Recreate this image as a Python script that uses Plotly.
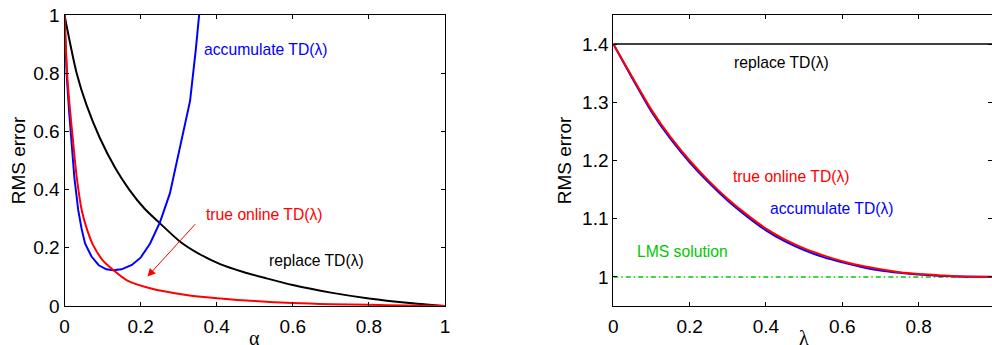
import plotly.graph_objects as go

# ---------------- Left panel data (RMS error vs alpha) ----------------
acc_alpha = [0, 0.006, 0.012, 0.019, 0.026, 0.036, 0.045, 0.054, 0.071, 0.09,
             0.11, 0.128, 0.15, 0.177, 0.2, 0.225, 0.251, 0.277, 0.3, 0.33, 0.345, 0.356]
acc_err = [1.0, 0.79, 0.67, 0.56, 0.44, 0.33, 0.265, 0.215, 0.17, 0.14,
           0.126, 0.123, 0.126, 0.141, 0.166, 0.215, 0.288, 0.387, 0.53, 0.705, 0.88, 1.03]

tol_alpha = [0, 0.0074, 0.0145, 0.023, 0.032, 0.046, 0.06, 0.075, 0.1, 0.128,
             0.163, 0.225, 0.32, 0.41, 0.5, 0.6, 0.7, 0.8, 0.9, 1.0]
tol_err = [1.0, 0.788, 0.674, 0.559, 0.444, 0.325, 0.26, 0.21, 0.158, 0.124,
           0.089, 0.061, 0.038, 0.026, 0.017, 0.01, 0.006, 0.004, 0.002, 0.0]

rep_alpha = [0, 0.032, 0.058, 0.092, 0.133, 0.17, 0.21, 0.251, 0.304, 0.35,
             0.409, 0.47, 0.531, 0.6, 0.7, 0.8, 0.9, 1.0]
rep_err = [1.0, 0.80, 0.69, 0.58, 0.475, 0.40, 0.335, 0.284, 0.221, 0.182,
           0.144, 0.117, 0.095, 0.072, 0.046, 0.026, 0.011, 0.0]

# ---------------- Right panel data (RMS error vs lambda) ----------------
lam = [0, 0.05, 0.1, 0.15, 0.2, 0.25, 0.3, 0.35, 0.4, 0.45, 0.5,
       0.55, 0.6, 0.65, 0.7, 0.75, 0.8, 0.85, 0.9, 0.95, 1.0]
tol_lam_err = [1.4, 1.343, 1.287, 1.24, 1.2, 1.165, 1.134, 1.107, 1.083, 1.064, 1.049,
               1.037, 1.027, 1.019, 1.013, 1.008, 1.005, 1.003, 1.001, 1.0003, 1.0]
acc_lam_err = [1.4, 1.341, 1.284, 1.237, 1.197, 1.162, 1.131, 1.104, 1.080, 1.061, 1.046,
               1.034, 1.025, 1.017, 1.011, 1.007, 1.004, 1.002, 1.0008, 1.0002, 1.0]
rep_lam = [0, 1.0]
rep_lam_err = [1.4, 1.4]
lms_lam = [0, 1.0]
lms_err = [1.0, 1.0]

left_ticks = [0, 0.2, 0.4, 0.6, 0.8, 1]
left_ticktext = ["0", "0.2", "0.4", "0.6", "0.8", "1"]
right_yticks = [1, 1.1, 1.2, 1.3, 1.4]
right_yticktext = ["1", "1.1", "1.2", "1.3", "1.4"]

BLUE = "rgb(0,0,255)"
RED = "rgb(255,0,0)"
BLACK = "rgb(0,0,0)"
GREEN = "rgb(0,200,0)"

W, H = 992, 345
fig = go.Figure()

# left panel
fig.add_trace(go.Scatter(x=rep_alpha, y=rep_err, mode="lines",
                         line=dict(color=BLACK, width=2, shape="spline", smoothing=0.8),
                         xaxis="x", yaxis="y", showlegend=False))
fig.add_trace(go.Scatter(x=acc_alpha, y=acc_err, mode="lines",
                         line=dict(color=BLUE, width=2),
                         xaxis="x", yaxis="y", showlegend=False))
fig.add_trace(go.Scatter(x=tol_alpha, y=tol_err, mode="lines",
                         line=dict(color=RED, width=2, shape="spline", smoothing=0.8),
                         xaxis="x", yaxis="y", showlegend=False))

# right panel
fig.add_trace(go.Scatter(x=rep_lam, y=rep_lam_err, mode="lines", line=dict(color=BLACK, width=1.5),
                         xaxis="x2", yaxis="y2", showlegend=False))
fig.add_trace(go.Scatter(x=lms_lam, y=lms_err, mode="lines",
                         line=dict(color=GREEN, width=1.5, dash="5px,3px,1.5px,3px"),
                         xaxis="x2", yaxis="y2", showlegend=False))
fig.add_trace(go.Scatter(x=lam, y=acc_lam_err, mode="lines",
                         line=dict(color=BLUE, width=2, shape="spline", smoothing=0.8),
                         xaxis="x2", yaxis="y2", showlegend=False))
fig.add_trace(go.Scatter(x=lam, y=tol_lam_err, mode="lines",
                         line=dict(color=RED, width=2, shape="spline", smoothing=0.8),
                         xaxis="x2", yaxis="y2", showlegend=False))

TICKFONT = dict(family="Liberation Sans, Arial, sans-serif", size=19, color="black")
LBLFONT = dict(family="Liberation Sans, Arial, sans-serif", size=15.7)
GREEKFONT = dict(family="Liberation Serif, DejaVu Serif, serif", size=20, color="black")
YTITLEFONT = dict(family="Liberation Sans, Arial, sans-serif", size=19, color="black")

axis_common = dict(showline=True, linecolor="black", linewidth=1, mirror="ticks",
                   ticks="inside", ticklen=4, tickwidth=1, tickcolor="black",
                   showgrid=False, zeroline=False, tickfont=TICKFONT, automargin=False)

l0, l1 = 64.5, 445.0
r0 = 613.3
ytop, ybot = 15.0, 306.0
right_end = (W - r0) / 381.7

fig.update_layout(
    width=W, height=H,
    margin=dict(l=0, r=0, t=ytop, b=H - ybot, pad=0, autoexpand=False),
    paper_bgcolor="white", plot_bgcolor="white",
    xaxis=dict(domain=[l0 / W, l1 / W], range=[0, 1], tickvals=left_ticks, ticktext=left_ticktext,
               ticklabelstandoff=3, anchor="y", **axis_common),
    yaxis=dict(domain=[0, 1], range=[0, 1], tickvals=left_ticks, ticktext=left_ticktext,
               title=dict(text="RMS error", font=YTITLEFONT, standoff=2),
               anchor="x", **axis_common),
    xaxis2=dict(domain=[r0 / W, 1.0], range=[0, right_end], tickvals=left_ticks[:-1],
                ticktext=left_ticktext[:-1], ticklabelstandoff=3, anchor="y2", **axis_common),
    yaxis2=dict(domain=[0, 1], range=[0.95, 1.45], tickvals=right_yticks, ticktext=right_yticktext,
                title=dict(text="RMS error", font=YTITLEFONT, standoff=5),
                anchor="x2", **axis_common),
)

ann = []
def lab(text, x, y, color, xref, yref):
    ann.append(dict(text=text, x=x, y=y, xref=xref, yref=yref, showarrow=False,
                    xanchor="left", yanchor="middle", font=dict(color=color, **LBLFONT)))

lab("accumulate TD(λ)", 0.362, 0.88, BLUE, "x", "y")
lab("true online TD(λ)", 0.366, 0.313, RED, "x", "y")
lab("replace TD(λ)", 0.531, 0.155, BLACK, "x", "y")
ann.append(dict(x=0.218, y=0.101, ax=0.347, ay=0.286, xref="x", yref="y", axref="x", ayref="y",
                showarrow=True, arrowhead=2, arrowsize=1.6, arrowwidth=1, arrowcolor=RED, text=""))

lab("replace TD(λ)", 0.312, 1.369, BLACK, "x2", "y2")
lab("true online TD(λ)", 0.308, 1.173, RED, "x2", "y2")
lab("accumulate TD(λ)", 0.404, 1.117, BLUE, "x2", "y2")
lab("LMS solution", 0.058, 1.044, GREEN, "x2", "y2")

# x-axis titles (α, λ) placed just below the tick labels
title_y = (ybot - 338.0) / (ybot - ytop)
ann.append(dict(text="α", x=0.5, y=title_y, xref="x domain", yref="paper", showarrow=False,
                xanchor="center", yanchor="middle", font=GREEKFONT))
ann.append(dict(text="λ", x=(0.5 - 0) / right_end * 1.0, y=title_y, xref="x2 domain", yref="paper",
                showarrow=False, xanchor="center", yanchor="middle", font=GREEKFONT))

fig.update_layout(annotations=ann)
# remove the browser's default 8px body margin so the figure fills the window exactly
fig.write_html("out.html", config={"displayModeBar": False},
               post_script="document.body.style.margin='0';")
